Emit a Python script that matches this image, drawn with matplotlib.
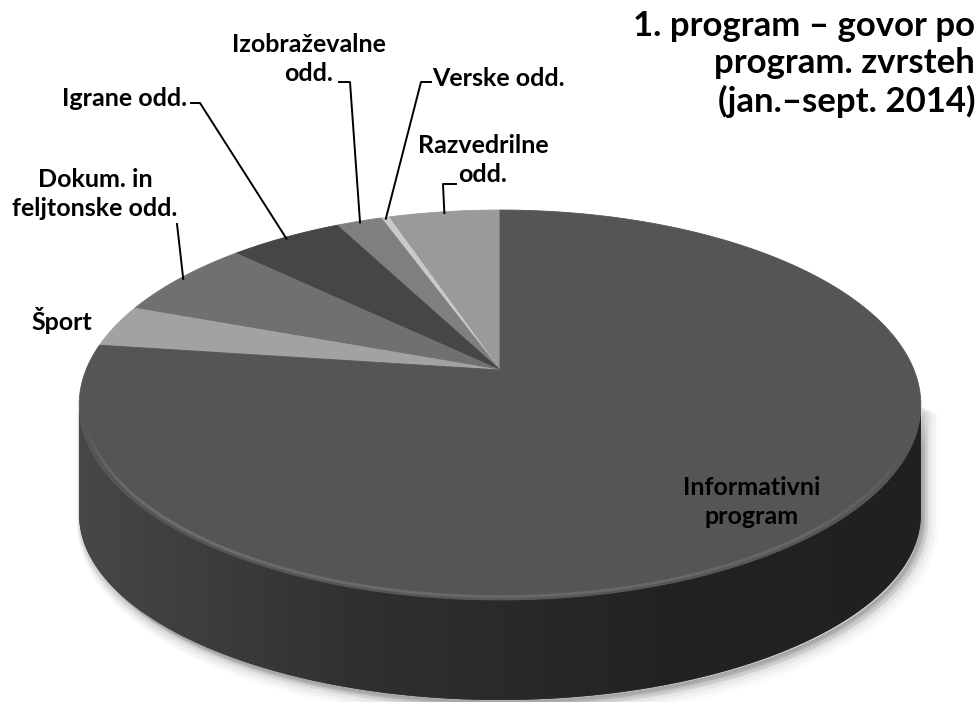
import numpy as np
import matplotlib
matplotlib.use("Agg")
import matplotlib.pyplot as plt
from matplotlib.transforms import Transform, Affine2D
from matplotlib.path import Path
from matplotlib.patches import PathPatch
from matplotlib.colors import LinearSegmentedColormap
from matplotlib.collections import LineCollection

# ---------------- data ----------------
categories = ["Razvedrilne odd.", "Verske odd.", "Izobraževalne odd.", "Igrane odd.",
              "Dokum. in feljtonske odd.", "Šport", "Informativni program"]
label_texts = ["Razvedrilne\nodd.", "Verske odd.", "Izobraževalne\nodd.", "Igrane odd.",
               "Dokum. in\nfeljtonske odd.", "Šport", "Informativni\nprogram"]
shares = [5.1, 0.35, 2.1, 5.2, 6.6, 3.5, 77.15]
colors = ["#9a9a9a", "#cacaca", "#7f7f7f", "#464646", "#707070", "#a2a2a2", "#555555"]
title = "1. program – govor po\nprogram. zvrsteh\n(jan.–sept. 2014)"

# ---------------- layout ----------------
W, H = 978, 702
CX, CY = 500.0, 370.0           # pie centre (pixels)
A, B, E = 414.0, 188.7, 0.1795  # perspective ellipse parameters
DEPTH = 100.0                   # extrusion depth at the front (pixels)
FONT = ["Lato", "DejaVu Sans"]

# label placement: text position, alignment, leader elbow/end points (pixels)
label_layout = {
    0: dict(xy=(483, 160), ha="center", leader=[(443, 184), (456, 184)]),
    1: dict(xy=(432, 79), ha="left", leader=[(421, 82), (431, 82)]),
    2: dict(xy=(309, 59), ha="center", leader=[(350, 82), (339, 82)]),
    3: dict(xy=(187, 98), ha="right", leader=[(200, 103), (191, 103)]),
    4: dict(xy=(95, 194), ha="center", leader=[(177, 224)]),
    5: dict(xy=(62, 321), ha="center", leader=None),
    6: dict(xy=(752, 502), ha="center", leader=None),
}


def drop_of(v):
    # vertical extrusion in pixels (slightly larger towards the sides)
    return DEPTH * (1.0 + 0.12 * (1.0 + v))


class Persp(Transform):
    """Maps unit-circle pie coordinates to a perspective view (pixels)."""
    input_dims = output_dims = 2
    is_separable = False
    has_inverse = False

    def __init__(self, extrude=False):
        super().__init__()
        self.extrude = extrude

    def transform_non_affine(self, xy):
        xy = np.asarray(xy, float).reshape(-1, 2)
        u, v = xy[:, 0], xy[:, 1]
        d = 1.0 + E * v
        x = CX + A * u / d
        y = CY - B * v / d
        if self.extrude:
            y = y + drop_of(v)
        return np.column_stack([x, y])

    def transform_path_non_affine(self, path):
        polys = path.to_polygons(transform=Affine2D().scale(2000), closed_only=True)
        verts, codes = [], []
        for p in polys:
            p = np.asarray(p) / 2000.0
            verts.append(p)
            codes += [Path.MOVETO] + [Path.LINETO] * (len(p) - 2) + [Path.CLOSEPOLY]
        return Path(self.transform_non_affine(np.vstack(verts)), codes)


fig = plt.figure(figsize=(W / 100, H / 100), dpi=100)
ax = fig.add_axes([0, 0, 1, 1])

wedges, _ = ax.pie(shares, colors=colors, startangle=90, counterclock=True,
                   radius=1, wedgeprops=dict(linewidth=0.6))
ax.set_aspect("auto")
ax.axis("off")

top_tf = Persp() + ax.transData
for w, c in zip(wedges, colors):
    w.set_transform(top_tf)
    w.set_edgecolor(c)
    w.set_zorder(5)

# ---- side of the cylinder (front half, silhouette to silhouette) ----
phis = np.linspace(np.pi + np.arcsin(E), 2 * np.pi - np.arcsin(E), 300)
rim = np.column_stack([np.cos(phis), np.sin(phis)])
top_edge = Persp().transform(rim)
bot_edge = Persp(extrude=True).transform(rim)
verts = np.vstack([top_edge, bot_edge[::-1], top_edge[:1]])
side_path = Path(verts, closed=True)

# soft shadow
for k, a in enumerate([0.06, 0.05, 0.04, 0.03, 0.02]):
    sh = PathPatch(Path(verts + np.array([2 + 1.5 * k, 3 + 1.5 * k]), closed=True),
                   transform=ax.transData, facecolor="black", edgecolor="black",
                   lw=3 + 3 * k, alpha=a, zorder=1)
    ax.add_patch(sh)

side_patch = PathPatch(side_path, transform=ax.transData, facecolor="#2a2a2a",
                       edgecolor="none", zorder=2)
ax.add_patch(side_patch)
x0, x1 = verts[:, 0].min(), verts[:, 0].max()
y0, y1 = verts[:, 1].min(), verts[:, 1].max()
side_cmap = LinearSegmentedColormap.from_list(
    "side", [(0.0, "#474747"), (0.15, "#3d3d3d"), (0.33, "#303030"),
             (0.5, "#2a2a2a"), (0.68, "#232323"), (1.0, "#202020")])
grad = np.linspace(0, 1, 512)[None, :]
im = ax.imshow(grad, extent=[x0, x1, y1, y0], cmap=side_cmap, vmin=0, vmax=1,
               aspect="auto", interpolation="bicubic", zorder=3)
im.set_clip_path(side_patch)

# bevel highlight on the front rim of the top face (fading towards the right)
hp = np.linspace(np.pi + 0.28, 2 * np.pi - 0.35, 300)
hl = Persp().transform(np.column_stack([0.988 * np.cos(hp), 0.988 * np.sin(hp)]))
segs = np.stack([hl[:-1], hl[1:]], axis=1)
fade = np.clip(np.sin(np.linspace(0, np.pi, len(segs))) * 1.6, 0, 1)
fade = fade * np.linspace(1.0, 0.45, len(segs))
seg_colors = np.zeros((len(segs), 4))
seg_colors[:, :3] = 0x70 / 255
seg_colors[:, 3] = 0.8 * fade
ax.add_collection(LineCollection(segs, colors=seg_colors, linewidths=2.2,
                                 capstyle="round", zorder=6))

ax.set_xlim(0, W)
ax.set_ylim(H, 0)

# ---- labels and leader lines ----
cum = np.concatenate([[0], np.cumsum(shares)]) / np.sum(shares) * 360.0
for i, txt in enumerate(label_texts):
    lay = label_layout[i]
    ax.text(lay["xy"][0], lay["xy"][1], txt, ha=lay["ha"], va="center",
            multialignment="center", fontsize=18, fontweight="bold",
            family=FONT, linespacing=1.33, color="black", zorder=10)
    if lay["leader"]:
        mid = np.deg2rad(90 + (cum[i] + cum[i + 1]) / 2)
        p = Persp().transform(np.array([[0.99 * np.cos(mid), 0.99 * np.sin(mid)]]))[0]
        pts = np.vstack([p] + [np.array(q) for q in lay["leader"]])
        ax.plot(pts[:, 0], pts[:, 1], color="black", lw=1.4, zorder=9)

ax.text(975, 10, title, ha="right", va="top", multialignment="right",
        fontsize=25, fontweight="bold", family=FONT, linespacing=1.2, zorder=10)

fig.savefig("out.png", dpi=100)
